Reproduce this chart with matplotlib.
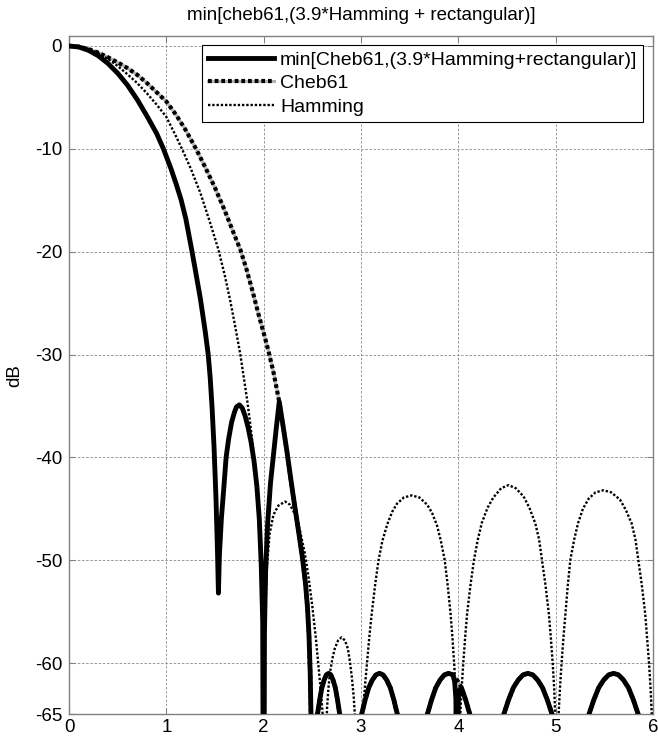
"""
Window comparison: min of Cheb61 and (3.9*Hamming + rectangular), in dB.
"""

import matplotlib
matplotlib.use("Agg")
import matplotlib.pyplot as plt

# values (x in bins, y in dB)
# -90 marks a null far below the visible range
min_x = [0, 0.1, 0.2, 0.3, 0.4, 0.5, 0.6, 0.7, 0.8, 0.9, 0.97, 1.05, 1.1,
         1.15, 1.2, 1.26, 1.3, 1.35, 1.4, 1.43, 1.45, 1.47, 1.49, 1.51,
         1.525, 1.535, 1.545, 1.565, 1.59, 1.614, 1.64, 1.67, 1.70, 1.72,
         1.75, 1.78, 1.81, 1.84, 1.87, 1.90, 1.93, 1.955, 1.975, 1.99, 2.0,
         2.008, 2.02, 2.04, 2.07, 2.10, 2.13, 2.16, 2.20, 2.24, 2.28, 2.32,
         2.36, 2.40, 2.43, 2.45, 2.465, 2.478, 2.488, 2.50,
         2.546, 2.575, 2.598, 2.621, 2.644, 2.667, 2.69, 2.713, 2.736, 2.759,
         2.788, 2.89,
         2.996, 3.042, 3.079, 3.116, 3.153, 3.19, 3.227, 3.264, 3.301, 3.338,
         3.384, 3.53,
         3.669, 3.724, 3.768, 3.812, 3.856, 3.90, 3.944, 3.962, 3.975, 3.985,
         4.0, 4.015, 4.032, 4.076, 4.131, 4.29,
         4.4525, 4.515, 4.565, 4.615, 4.665, 4.715, 4.765, 4.815, 4.865,
         4.915, 4.9775, 5.15,
         5.327, 5.391, 5.442, 5.493, 5.544, 5.595, 5.646, 5.697, 5.748, 5.799,
         5.863]
min_db = [0, -0.1, -0.42, -0.95, -1.7, -2.65, -3.8, -5.2, -6.8, -8.5, -10.0,
          -12.0, -13.4, -14.9, -16.8, -19.8, -21.9, -24.6, -27.8, -30.0, -32.2,
          -35.2, -39.0, -44.0, -49.0, -53.2, -49.5, -46.0, -43.0, -40.0, -38.2,
          -36.6, -35.6, -35.1, -34.9, -35.2, -36.0, -37.1, -38.5, -40.3, -42.8,
          -46.0, -50.5, -56.0, -90,
          -57.0, -51.0, -46.5, -42.5, -39.8, -37.1, -34.6, -37.0, -39.5, -42.2,
          -44.8, -47.3, -49.9, -52.3, -54.6, -57.2, -61.0, -66.0, -90,
          -65.4, -63.6, -62.4, -61.65, -61.15, -61.0, -61.15, -61.65, -62.4,
          -63.6, -65.4, -90,
          -65.4, -63.6, -62.4, -61.65, -61.15, -61.0, -61.15, -61.65, -62.4,
          -63.6, -65.4, -90,
          -65.4, -63.6, -62.4, -61.65, -61.15, -61.0, -61.15, -61.8, -63.5,
          -90, -63.5, -62.6, -62.4, -63.6, -65.4, -90,
          -65.4, -63.6, -62.4, -61.65, -61.15, -61.0, -61.15, -61.65, -62.4,
          -63.6, -65.4, -90,
          -65.4, -63.6, -62.4, -61.65, -61.15, -61.0, -61.15, -61.65, -62.4,
          -63.6, -65.4]

cheb_x = [0, 0.1, 0.2, 0.3, 0.4, 0.5, 0.6, 0.7, 0.8, 0.9, 1.0, 1.1, 1.2,
          1.31, 1.4, 1.5, 1.6, 1.7, 1.76, 1.82, 1.89, 1.95, 2.0, 2.05, 2.1,
          2.16, 2.20, 2.24, 2.28, 2.32, 2.36, 2.40, 2.43, 2.45, 2.465, 2.478,
          2.488, 2.50,
          2.546, 2.575, 2.598, 2.621, 2.644, 2.667, 2.69, 2.713, 2.736, 2.759,
          2.788, 2.89,
          2.996, 3.042, 3.079, 3.116, 3.153, 3.19, 3.227, 3.264, 3.301, 3.338,
          3.384, 3.53,
          3.669, 3.724, 3.768, 3.812, 3.856, 3.90, 3.944, 3.988, 4.032, 4.076,
          4.131, 4.29,
          4.4525, 4.515, 4.565, 4.615, 4.665, 4.715, 4.765, 4.815, 4.865,
          4.915, 4.9775, 5.15,
          5.327, 5.391, 5.442, 5.493, 5.544, 5.595, 5.646, 5.697, 5.748, 5.799,
          5.863]
cheb_db = [0, -0.07, -0.3, -0.65, -1.1, -1.6, -2.15, -2.8, -3.6, -4.5, -5.4,
           -6.7, -8.2, -10.1, -11.8, -13.8, -16.0, -18.4, -19.8, -21.6, -24.0,
           -26.2, -27.9, -29.7, -31.7, -34.6, -37.0, -39.5, -42.2, -44.8, -47.3,
           -49.9, -52.3, -54.6, -57.2, -61.0, -66.0, -90,
           -65.4, -63.6, -62.4, -61.65, -61.15, -61.0, -61.15, -61.65, -62.4,
           -63.6, -65.4, -90,
           -65.4, -63.6, -62.4, -61.65, -61.15, -61.0, -61.15, -61.65, -62.4,
           -63.6, -65.4, -90,
           -65.4, -63.6, -62.4, -61.65, -61.15, -61.0, -61.15, -61.65, -62.4,
           -63.6, -65.4, -90,
           -65.4, -63.6, -62.4, -61.65, -61.15, -61.0, -61.15, -61.65, -62.4,
           -63.6, -65.4, -90,
           -65.4, -63.6, -62.4, -61.65, -61.15, -61.0, -61.15, -61.65, -62.4,
           -63.6, -65.4]

ham_x = [0, 0.1, 0.2, 0.3, 0.4, 0.5, 0.6, 0.7, 0.8, 0.9, 1.0, 1.1, 1.16,
         1.25, 1.35, 1.45, 1.535, 1.60, 1.655, 1.71, 1.76, 1.80, 1.83, 1.86,
         1.89, 1.92, 1.945, 1.965, 1.98, 1.992, 2.0,
         2.008, 2.02, 2.035, 2.06, 2.10, 2.15, 2.22, 2.27, 2.32, 2.37, 2.42,
         2.46, 2.50, 2.535, 2.565, 2.59, 2.61, 2.63,
         2.65, 2.665, 2.68, 2.705, 2.73, 2.765, 2.80, 2.835, 2.865, 2.885,
         2.905, 2.925, 2.94, 2.975,
         3.015, 3.04, 3.06, 3.085, 3.11, 3.145, 3.18, 3.22, 3.27, 3.32, 3.37,
         3.44, 3.52, 3.60, 3.68, 3.73, 3.78, 3.82, 3.86, 3.89, 3.92, 3.94,
         3.96, 3.975, 4.0,
         4.02, 4.035, 4.05, 4.07, 4.09, 4.125, 4.16, 4.20, 4.24, 4.30, 4.36,
         4.44, 4.515, 4.59, 4.67, 4.73, 4.79, 4.83, 4.86, 4.895, 4.93, 4.95,
         4.97, 4.985, 4.995, 5.015,
         5.03, 5.045, 5.06, 5.08, 5.10, 5.125, 5.15, 5.19, 5.23, 5.28, 5.34,
         5.41, 5.49, 5.57, 5.66, 5.72, 5.78, 5.82, 5.85, 5.885, 5.92, 5.94,
         5.96, 5.975, 5.99, 6.0]
ham_db = [0, -0.08, -0.3, -0.7, -1.25, -1.95, -2.75, -3.6, -4.6, -5.7, -6.9,
          -8.8, -10.0, -11.9, -14.3, -17.2, -19.8, -22.3, -24.7, -27.4, -30.0,
          -32.5, -34.4, -36.6, -39.0, -42.0, -45.5, -49.5, -53.0, -58.0, -90,
          -60.0, -54.0, -50.5, -47.5, -45.6, -44.7, -44.3, -44.6, -45.5, -47.0,
          -49.2, -51.6, -54.5, -57.5, -60.5, -63.0, -65.5, -90,
          -64.5, -62.5, -61.0, -59.6, -58.6, -57.8, -57.5, -57.8, -58.6, -59.8,
          -61.3, -63.3, -65.5, -90,
          -65.0, -62.3, -60.1, -57.5, -55.2, -52.4, -50.0, -48.1, -46.5, -45.3,
          -44.5, -43.9, -43.7, -43.9, -44.6, -45.4, -46.6, -48.1, -50.0, -52.4,
          -55.2, -57.6, -60.5, -63.5, -90,
          -65.0, -62.3, -60.1, -57.5, -55.2, -52.4, -50.0, -48.0, -46.4, -44.9,
          -43.9, -43.0, -42.7, -43.0, -43.8, -44.9, -46.4, -48.0, -50.0, -52.4,
          -55.2, -57.5, -60.1, -62.5, -65.0, -90,
          -65.0, -62.3, -60.1, -57.5, -55.2, -52.4, -50.0, -48.0, -46.4, -45.0,
          -44.0, -43.4, -43.2, -43.4, -44.1, -45.1, -46.4, -48.0, -50.0, -52.4,
          -55.2, -57.6, -60.1, -62.5, -65.5, -90]

x_ticks = [0, 1, 2, 3, 4, 5, 6]
y_ticks = [0, -10, -20, -30, -40, -50, -60, -65]

plt.rcParams['font.family'] = ['Liberation Sans', 'DejaVu Sans']
plt.rcParams['axes.unicode_minus'] = False

fig = plt.figure(figsize=(6.58, 7.42), dpi=100)
ax = fig.add_axes([0.1049, 0.0371, 0.8875, 0.9148])

# min curve solid, Cheb61 thick dotted (grey under the dots), Hamming thin dotted
l_min, = ax.plot(min_x, min_db, color='black', lw=3.5, zorder=3,
                 solid_joinstyle='round')
l_gray, = ax.plot(cheb_x, cheb_db, color='#b4b4b4', lw=2.2, zorder=2)
l_cheb, = ax.plot(cheb_x, cheb_db, color='black', lw=3.0, zorder=3.5,
                  linestyle=(0, (0.9, 0.7)), dash_capstyle='butt')
l_ham, = ax.plot(ham_x, ham_db, color='black', lw=1.7, zorder=4,
                 linestyle=(0, (1.0, 0.8)), dash_capstyle='butt')

ax.set_xlim(0, 6)
ax.set_ylim(-65, 1)
ax.set_xticks(x_ticks)
ax.set_yticks(y_ticks)
ax.set_xticklabels([str(t) for t in x_ticks])
ax.set_yticklabels([str(t) for t in y_ticks])
ax.tick_params(direction='in', top=True, right=True, length=4, width=0.8,
               color='#808080', labelsize=13.5)
ax.tick_params(axis='x', pad=3)
ax.tick_params(axis='y', pad=5)
for s in ax.spines.values():
    s.set_color('#808080')
    s.set_linewidth(1.0)

ax.grid(True, color='#8a8a8a', linestyle=(0, (3, 2)), linewidth=0.6)
ax.set_axisbelow(True)

ax.set_ylabel('dB', fontsize=13.5, labelpad=8)
ax.set_title('min[cheb61,(3.9*Hamming + rectangular)]', fontsize=13.5, pad=11)

leg = ax.legend([l_min, (l_gray, l_cheb), l_ham],
                ['min[Cheb61,(3.9*Hamming+rectangular)]', 'Cheb61', 'Hamming'],
                loc='upper right', fontsize=14, fancybox=False,
                edgecolor='black', framealpha=1, handlelength=3.4,
                handletextpad=0.33, labelspacing=0.3, borderpad=0.3,
                borderaxespad=0.5)
leg.get_frame().set_linewidth(0.8)

fig.savefig('out.png', dpi=100)
